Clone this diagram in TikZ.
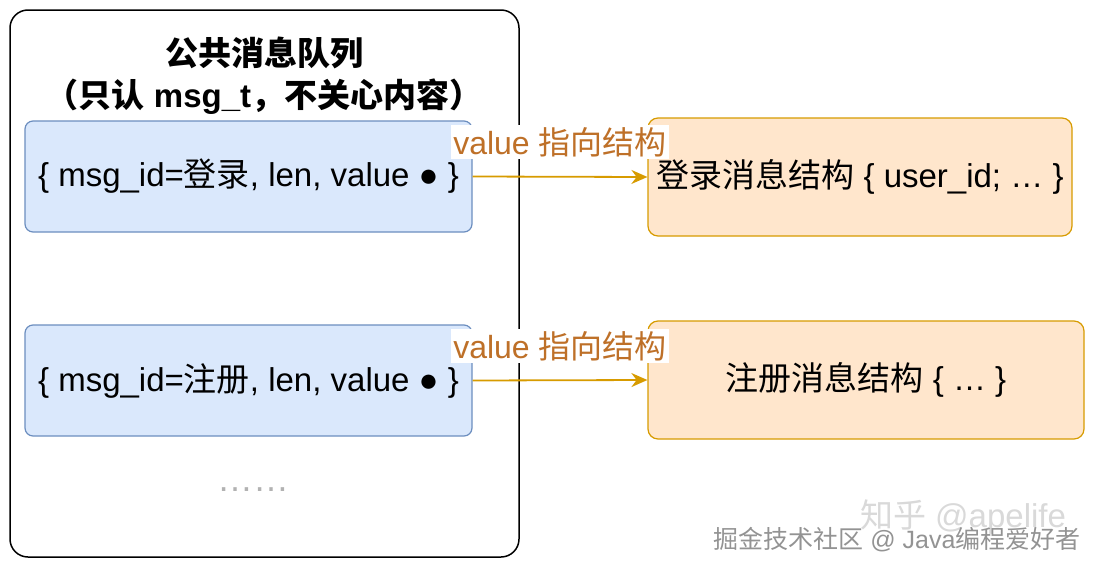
\documentclass[tikz,border=0pt]{standalone}
\usepackage{fontspec}
\setmainfont{Liberation Sans}
\newfontfamily\cjk{Noto Sans CJK SC}
\usetikzlibrary{positioning}
\usetikzlibrary{arrows.meta}
\definecolor{qfill}{HTML}{DAE8FC}
\definecolor{qline}{HTML}{6C8EBF}
\definecolor{sfill}{HTML}{FFE6CC}
\definecolor{sline}{HTML}{D79B00}
\definecolor{lbltext}{RGB}{190,112,40}
\newcommand{\zh}[1]{{\cjk #1}}

\begin{document}
\begin{tikzpicture}[x=1pt,y=-1pt,
    every node/.style={inner sep=0pt},
    queue/.style={draw, line width=1.5pt, rounded corners=18pt},
    msgbox/.style={draw=qline, fill=qfill, line width=1.2pt, rounded corners=8pt,
      minimum width=447pt, minimum height=111pt, font=\fontsize{33}{38}\selectfont},
    structbox/.style={draw=sline, fill=sfill, line width=1.2pt, rounded corners=10pt,
      minimum height=118pt, font=\fontsize{33}{38}\selectfont},
    pointer/.style={draw=sline, line width=1.8pt, -{Stealth[length=16pt,width=14pt]}},
    ptrlabel/.style={fill=white, text=lbltext, inner sep=2pt, font=\fontsize{32}{36}\selectfont}]
  \useasboundingbox (0,0) rectangle (1098,570);
  % queue frame
  \node[queue, minimum width=509pt, minimum height=547pt] (queue) at (264.5,283.5) {};
  \node[font=\bfseries\fontsize{33}{38}\selectfont, align=center] (title) at (264,76)
    {\zh{公共消息队列}\\[4pt]\zh{（只认} msg\_t\zh{，不关心内容）}};
  % messages
  \node[msgbox] (login) at (248.5,176.5) {\{ msg\_id=\zh{登录}, len, value ● \}};
  \node[msgbox] (reg) at (248.5,380.5) {\{ msg\_id=\zh{注册}, len, value ● \}};
  \node[text=gray!60, font=\fontsize{36}{40}\selectfont] (more) at (253,490) {……};
  % structures
  \node[structbox, minimum width=424pt] (loginst) at (860,177) {\zh{登录消息结构} \{ user\_id; … \}};
  \node[structbox, minimum width=436pt] (regst) at (866,380) {\zh{注册消息结构} \{ … \}};
  % pointers
  \draw[pointer] (login.east) -- (loginst.west);
  \draw[pointer] (reg.east) -- (regst.west);
  \node[ptrlabel] (lbl1) at (560,142) {value \zh{指向结构}};
  \node[ptrlabel] (lbl2) at (560,346) {value \zh{指向结构}};
  % watermarks
  \node[text=gray!30, font=\fontsize{33}{36}\selectfont] (zhihu) at (963,517) {\zh{知乎} @apelife};
  \node[text=gray!85, font=\fontsize{25}{28}\selectfont] (juejin) at (897,540) {\zh{掘金技术社区} @ Java\zh{编程爱好者}};
\end{tikzpicture}
\end{document}
